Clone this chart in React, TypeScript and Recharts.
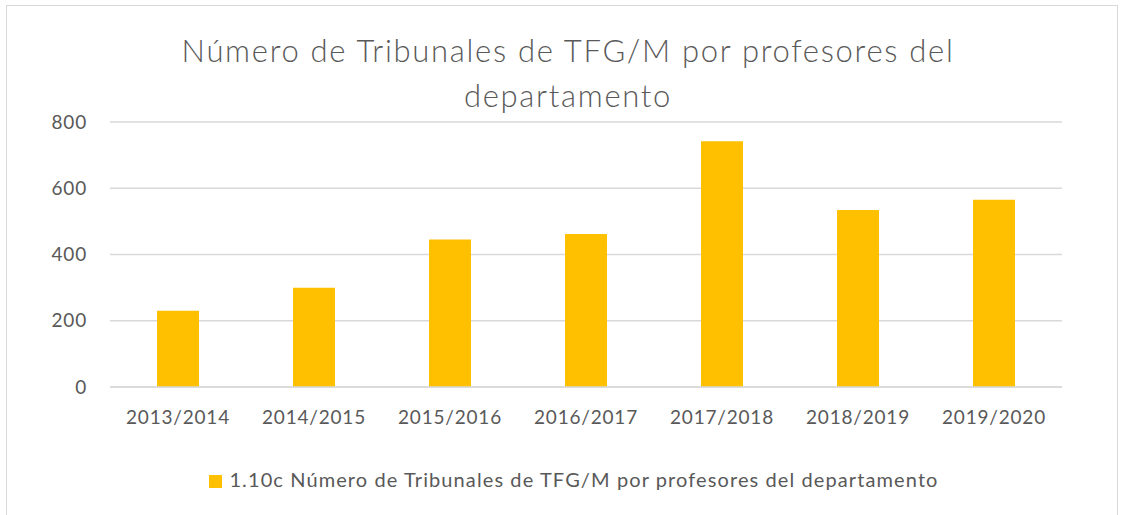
import React from "react";
import { BarChart, Bar, XAxis, YAxis, CartesianGrid, Legend } from "recharts";

const categories = ["2013/2014", "2014/2015", "2015/2016", "2016/2017", "2017/2018", "2018/2019", "2019/2020"];
const values = [230, 300, 445, 462, 742, 534, 565];
const yTicks = [0, 200, 400, 600, 800];
const seriesName = "1.10c Número de Tribunales de TFG/M por profesores del departamento";
const titleLines = ["Número de Tribunales de TFG/M por profesores del", "departamento"];

const data = categories.map((c, i) => ({ name: c, value: values[i] }));

const FONT = "Lato, 'Open Sans', sans-serif";
const TEXT = "#595959";

export default function App() {
  return (
    <div style={{ position: "absolute", left: 0, top: 0, width: 1127, height: 515, background: "#fff", fontFamily: FONT, overflow: "hidden" }}>
      <div style={{ position: "absolute", left: 6, top: 5, width: 1112, height: 520, border: "1px solid #d9d9d9", boxSizing: "border-box" }} />
      <div style={{ position: "absolute", left: 0, top: 28, width: 1136, textAlign: "center", color: TEXT, fontSize: 31, lineHeight: "45px", fontWeight: 300, letterSpacing: 1.7 }}>
        {titleLines.map((t) => (
          <div key={t}>{t}</div>
        ))}
      </div>
      <div style={{ position: "absolute", left: 0, top: 0 }}>
        <BarChart width={1127} height={515} data={data} margin={{ top: 122, right: 65, bottom: 74, left: 50 }} barSize={42}>
          <CartesianGrid vertical={false} stroke="#d9d9d9" strokeWidth={1.5} />
          <XAxis dataKey="name" axisLine={{ stroke: "#d9d9d9", strokeWidth: 1.5 }} tickLine={false} tickSize={0} tickMargin={24} tick={{ fill: TEXT, fontSize: 19, fontFamily: FONT, letterSpacing: 0.8 }} />
          <YAxis width={60} domain={[0, 800]} ticks={yTicks} axisLine={false} tickLine={false} tickSize={0} tickMargin={23} tick={{ fill: TEXT, fontSize: 19, fontFamily: FONT, letterSpacing: 0.8 }} />
          <Legend
            verticalAlign="bottom"
            align="center"
            iconType="square"
            iconSize={13}
            wrapperStyle={{ bottom: 24, left: 73, fontSize: 20, fontFamily: FONT, letterSpacing: 1.1 }}
            formatter={(v) => <span style={{ color: TEXT, marginLeft: 3 }}>{v}</span>}
          />
          <Bar dataKey="value" name={seriesName} fill="#FFC000" isAnimationActive={false} />
        </BarChart>
      </div>
    </div>
  );
}
